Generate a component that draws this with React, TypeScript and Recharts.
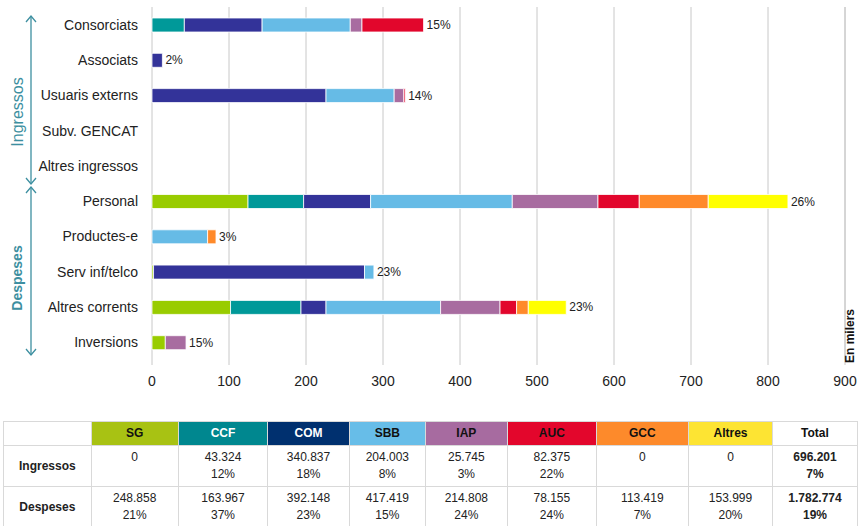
import { BarChart, Bar, XAxis, YAxis, CartesianGrid, LabelList, ReferenceLine } from 'recharts';

const categories = [
  'Consorciats', 'Associats', 'Usuaris externs', 'Subv. GENCAT', 'Altres ingressos',
  'Personal', 'Productes-e', 'Serv inf/telco', 'Altres corrents', 'Inversions',
];

const sg = [0, 0, 0, 0, 0, 124.7, 0, 2, 102, 17.3];
const ccf = [42, 0, 0, 0, 0, 72.2, 0, 0, 91.5, 0];
const com = [101, 13.5, 226, 0, 0, 87, 0, 274, 32.5, 0];
const sbb = [114.5, 0, 88.5, 0, 0, 184, 72.2, 12.2, 148.8, 0];
const iap = [15.2, 0, 12.5, 0, 0, 111.3, 0, 0, 77.2, 26.9];
const auc = [80, 0, 1.8, 0, 0, 53.6, 0, 0, 21.5, 0];
const gcc = [0, 0, 0, 0, 0, 89.6, 10.9, 0, 15.2, 0];
const altres = [0, 0, 0, 0, 0, 103.5, 0, 0, 49.3, 0];

const pctLabels = ['15%', '2%', '14%', '', '', '26%', '3%', '23%', '23%', '15%'];

const xTicks = [0, 100, 200, 300, 400, 500, 600, 700, 800, 900];

// table
const tableHeads = ['SG', 'CCF', 'COM', 'SBB', 'IAP', 'AUC', 'GCC', 'Altres', 'Total'];
const ingVals = ['0', '43.324', '340.837', '204.003', '25.745', '82.375', '0', '0', '696.201'];
const ingPct = ['', '12%', '18%', '8%', '3%', '22%', '', '', '7%'];
const despVals = ['248.858', '163.967', '392.148', '417.419', '214.808', '78.155', '113.419', '153.999', '1.782.774'];
const despPct = ['21%', '37%', '23%', '15%', '24%', '24%', '7%', '20%', '19%'];

const series = [
  { key: 'SG', values: sg, color: '#99cc00' },
  { key: 'CCF', values: ccf, color: '#009999' },
  { key: 'COM', values: com, color: '#333399' },
  { key: 'SBB', values: sbb, color: '#66bbe6' },
  { key: 'IAP', values: iap, color: '#a86ca0' },
  { key: 'AUC', values: auc, color: '#e2062c' },
  { key: 'GCC', values: gcc, color: '#ff8a2a' },
  { key: 'Altres', values: altres, color: '#ffff00' },
];

const headColors = ['#a8c213', '#00878f', '#00306f', '#67bde8', '#a76ba0', '#e3062c', '#fd8a2b', '#fde433', '#ffffff'];
const headText = ['#111', '#fff', '#fff', '#111', '#111', '#111', '#111', '#111', '#111'];

const data = categories.map((name, i) => {
  const row: any = { name };
  series.forEach((s) => { row[s.key] = s.values[i]; });
  return row;
});

const lastKey = categories.map((_, i) => {
  let k = '';
  series.forEach((s) => { if (s.values[i] > 0) k = s.key; });
  return k;
});

const pctContent = (key: string) => (props: any) => {
  const i = categories.indexOf(props.value);
  if (i < 0 || lastKey[i] !== key || !pctLabels[i]) return null;
  const vb = props.viewBox || {};
  const bx = vb.x ?? props.x;
  const bw = vb.width ?? props.width;
  const by = vb.y ?? props.y;
  const bh = vb.height ?? props.height;
  return (
    <text x={bx + bw + 3} y={by + bh / 2} dy={4} fontSize={12} fill="#222" fontFamily="Liberation Sans, Arial, sans-serif">
      {pctLabels[i]}
    </text>
  );
};

const colX = [3, 90.7, 177.7, 267.3, 348.7, 425, 506.7, 596, 687.7, 772.3, 856.7];
const rowY = [420.7, 445.3, 486, 528];
const teal = '#3d8fa0';
const font = 'Liberation Sans, Arial, sans-serif';

const Cell = ({ c, r, children, bg, color, bold, top }: any) => (
  <div
    style={{
      position: 'absolute',
      left: colX[c],
      top: rowY[r],
      width: colX[c + 1] - colX[c] + 1,
      height: rowY[r + 1] - rowY[r] + 1,
      boxSizing: 'border-box',
      border: '1px solid #d9d9d9',
      background: bg || '#fff',
      color: color || '#222',
      fontWeight: bold ? 'bold' : 'normal',
      fontSize: 12,
      lineHeight: '17px',
      textAlign: 'center',
      display: 'flex',
      flexDirection: 'column',
      justifyContent: top ? 'flex-start' : 'center',
      paddingTop: top ? 3 : 0,
    }}
  >
    {children}
  </div>
);

const App = () => {
  return (
    <div style={{ position: 'absolute', left: 0, top: 0, width: 858, height: 526, fontFamily: font, background: '#fff' }}>
      <div style={{ position: 'absolute', left: 0, top: 0 }}>
        <BarChart
          width={858}
          height={400}
          data={data}
          layout="vertical"
          margin={{ top: 7, right: 13, left: 0, bottom: 0 }}
          barSize={14}
        >
          <CartesianGrid horizontal={false} stroke="#c8c8c8" />
          <ReferenceLine x={900} stroke="#c8c8c8" />
          <XAxis
            type="number"
            domain={[0, 900]}
            ticks={xTicks}
            interval={0}
            height={40}
            axisLine={false}
            tickLine={{ stroke: '#c8c8c8' }}
            tickSize={5}
            tickMargin={11}
            tick={{ fontSize: 14, fill: '#222', fontFamily: font }}
          />
          <YAxis
            type="category"
            dataKey="name"
            width={152}
            axisLine={false}
            tickLine={false}
            tickSize={6}
            tickMargin={8}
            interval={0}
            tick={{ fontSize: 14, fill: '#222', fontFamily: font }}
          />
          {series.map((s) => (
            <Bar key={s.key} dataKey={s.key} stackId="a" fill={s.color} stroke="#fff" strokeWidth={0.8} isAnimationActive={false}>
              <LabelList dataKey="name" content={pctContent(s.key)} />
            </Bar>
          ))}
        </BarChart>
      </div>

      <svg width={858} height={400} style={{ position: 'absolute', left: 0, top: 0, pointerEvents: 'none' }}>
        <g stroke={teal} strokeWidth={1.3} fill="none">
          <line x1={31} y1={16} x2={31} y2={184} />
          <polyline points="26,22 31,16 36,22" />
          <polyline points="26,178 31,184 36,178" />
          <line x1={31} y1={187} x2={31} y2={355} />
          <polyline points="26,193 31,187 36,193" />
          <polyline points="26,349 31,355 36,349" />
        </g>
        <text transform="translate(23,112) rotate(-90)" textAnchor="middle" fontSize={16} fill={teal} fontFamily={font}>
          Ingressos
        </text>
        <text transform="translate(22,278) rotate(-90)" textAnchor="middle" fontSize={14} fontWeight="bold" fill={teal} fontFamily={font}>
          Despeses
        </text>
        <text transform="translate(854,336) rotate(-90)" textAnchor="middle" fontSize={12} fontWeight="bold" fill="#111" fontFamily={font}>
          En milers
        </text>
      </svg>

      <Cell c={0} r={0} />
      {tableHeads.map((h, i) => (
        <Cell key={h} c={i + 1} r={0} bg={headColors[i]} color={headText[i]} bold>
          {h}
        </Cell>
      ))}
      <Cell c={0} r={1} bold>Ingressos</Cell>
      {ingVals.map((v, i) => (
        <Cell key={'i' + i} c={i + 1} r={1} top bold={i === 8}>
          <span>{v}</span>
          <span>{ingPct[i] || '\u00a0'}</span>
        </Cell>
      ))}
      <Cell c={0} r={2} bold>Despeses</Cell>
      {despVals.map((v, i) => (
        <Cell key={'d' + i} c={i + 1} r={2} top bold={i === 8}>
          <span>{v}</span>
          <span>{despPct[i]}</span>
        </Cell>
      ))}
    </div>
  );
};

export default App;
